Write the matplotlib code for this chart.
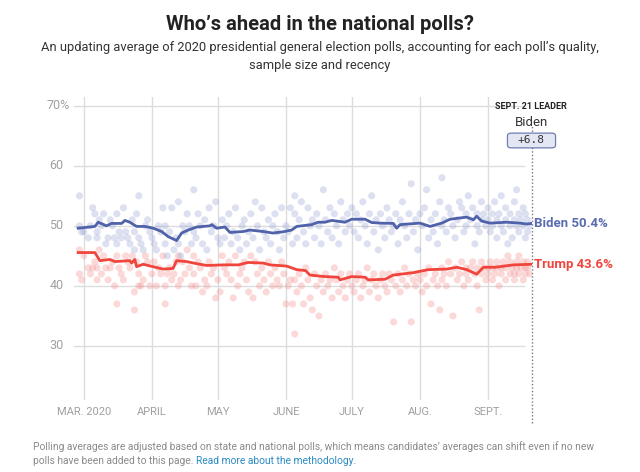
import matplotlib
matplotlib.use("Agg")
import matplotlib.pyplot as plt
from matplotlib.patches import FancyBboxPatch
import numpy as np

# ---------------- data (day index: 0 = March 1, 2020) ----------------
poll_days = [-2, -2, -1, 0, 2, 3, 4, 5, 6, 6, 7, 8, 9, 10, 11, 12, 13, 14, 15, 15, 16, 17, 18, 19, 20, 21, 22, 23, 23, 24, 25, 25, 26, 27, 28, 29, 30,
             31, 32, 33, 34, 35, 36, 37, 37, 38, 39, 40, 41, 42, 43, 43, 44, 45, 46, 47, 48, 49, 50, 50, 51, 52, 53, 54, 55, 56, 57, 58, 59, 60,
             61, 62, 63, 64, 65, 66, 67, 68, 69, 70, 71, 72, 73, 74, 75, 76, 77, 78, 79, 80, 81, 82, 83, 84, 85, 86, 87, 88, 89, 90, 91,
             92, 93, 94, 95, 96, 96, 97, 98, 99, 100, 101, 102, 103, 104, 105, 106, 107, 108, 109, 110, 111, 112, 113, 114, 115, 116, 117, 118, 119, 120, 121,
             122, 123, 124, 125, 126, 127, 128, 129, 130, 131, 132, 133, 134, 135, 136, 137, 138, 139, 140, 141, 142, 143, 144, 145, 146, 147, 148, 149, 150, 151, 152,
             153, 154, 155, 156, 157, 158, 159, 160, 161, 162, 163, 163, 164, 165, 166, 167, 168, 169, 170, 171, 172, 173, 174, 174, 175, 176, 177, 178, 179, 179, 180, 181, 181, 182, 183,
             184, 184, 185, 186, 186, 187, 188, 188, 189, 190, 190, 191, 192, 192, 193, 194, 194, 195, 196, 196, 197, 197, 198, 198, 199, 200, 200, 201, 201, 202, 202, 203]
poll_biden = [50, 55, 49, 49, 48, 50, 53, 52, 48, 49, 51, 50, 52, 47, 48, 51, 50, 48, 47, 52, 49, 48, 53, 49, 48, 47, 51, 49, 46, 52, 55, 48, 47, 46, 50, 51, 49,
              48, 47, 46, 50, 49, 53, 47, 50, 45, 49, 53, 46, 48, 54, 47, 45, 50, 49, 52, 50, 47, 56, 49, 48, 52, 50, 47, 51, 46, 53, 49, 50, 54,
              48, 47, 51, 48, 50, 52, 47, 49, 53, 48, 46, 50, 51, 47, 49, 52, 48, 54, 50, 46, 53, 49, 48, 51, 47, 50, 52, 49, 46, 53, 48,
              50, 49, 53, 47, 52, 55, 48, 51, 54, 49, 47, 53, 50, 51, 48, 52, 50, 47, 56, 51, 49, 53, 48, 52, 50, 47, 54, 51, 49, 52, 50,
              53, 49, 52, 48, 51, 54, 50, 47, 52, 55, 49, 51, 46, 52, 50, 48, 53, 51, 49, 50, 52, 47, 51, 54, 50, 48, 52, 57, 49, 51, 46,
              52, 50, 53, 56, 48, 51, 49, 52, 47, 54, 58, 50, 51, 49, 53, 52, 50, 48, 51, 54, 53, 49, 52, 50, 55, 51, 53, 47, 52, 50, 49, 54, 51, 52, 50,
              51, 53, 49, 52, 50, 54, 51, 48, 52, 50, 55, 49, 51, 53, 47, 52, 50, 48, 54, 51, 56, 50, 52, 49, 51, 53, 50, 48, 52, 51, 49, 50]
poll_trump = [46, 42, 41, 45, 43, 42, 43, 44, 41, 43, 46, 42, 45, 43, 41, 43, 44, 40, 37, 45, 43, 42, 41, 45, 44, 43, 45, 36, 39, 44, 42, 40, 40, 41, 45, 44, 40,
              42, 44, 40, 43, 42, 45, 37, 40, 42, 43, 41, 42, 44, 45, 40, 41, 44, 42, 46, 43, 40, 45, 42, 40, 44, 43, 39, 41, 40, 44, 42, 43, 38,
              41, 39, 45, 43, 42, 44, 41, 38, 45, 40, 42, 43, 44, 41, 39, 45, 38, 44, 42, 40, 43, 41, 39, 44, 42, 40, 43, 41, 40, 44, 42,
              37, 40, 41, 37, 32, 41, 39, 42, 40, 37, 43, 41, 38, 36, 42, 40, 35, 41, 39, 42, 40, 41, 38, 43, 41, 39, 42, 40, 38, 41, 42,
              40, 39, 41, 42, 38, 40, 41, 43, 39, 41, 42, 40, 38, 41, 42, 40, 39, 42, 41, 34, 40, 42, 39, 41, 43, 40, 42, 34, 41, 40, 42,
              41, 39, 42, 40, 43, 37, 41, 42, 40, 36, 43, 41, 42, 40, 44, 42, 35, 43, 41, 42, 44, 40, 43, 42, 41, 43, 44, 42, 40, 43, 36, 42, 44, 43, 41,
              43, 42, 44, 43, 41, 42, 44, 43, 40, 43, 42, 44, 41, 43, 45, 42, 44, 43, 41, 42, 44, 43, 42, 45, 43, 41, 44, 42, 43, 44, 43, 42]

biden_avg_days = [-2.6, 5.0, 6.5, 10.3, 12.6, 17.2, 18.7, 20.9, 24.0, 27.8, 31.6, 35.4, 38.4, 42.2, 44.5, 47.5, 51.3, 57.4, 58.2, 60.4,
                  64.2, 66.5, 72.5, 75.6, 81.6, 86.0, 90.6, 94.6, 96.9, 103.7, 106.6, 109.7, 112.8, 118.9, 121.9, 128.0, 131.0, 134.8,
                  140.8, 142.4, 143.9, 153.0, 157.6, 162.9, 166.7, 174.3, 177.3, 178.8, 181.1, 184.9, 192.5, 198.5, 201.6, 204.0]
biden_avg = [49.6, 49.9, 50.6, 50.0, 50.4, 50.4, 50.9, 50.6, 49.9, 49.9, 49.6, 49.05, 48.2, 47.55, 48.8, 49.3, 49.8, 50.0, 50.2, 49.6,
             49.8, 48.9, 49.05, 49.3, 49.05, 48.8, 49.0, 49.3, 49.9, 50.2, 50.6, 50.6, 50.9, 50.6, 51.1, 51.1, 50.55, 50.45,
             50.4, 49.6, 50.2, 50.45, 49.9, 50.45, 51.1, 51.45, 51.0, 51.6, 50.8, 50.45, 50.6, 50.45, 50.3, 50.4]

trump_avg_days = [-2.6, 5.0, 7.3, 11.8, 14.1, 20.9, 21.7, 23.2, 24.0, 27.0, 33.1, 36.1, 40.6, 42.2, 46.7, 51.3, 55.9, 63.4, 70.3, 74.8,
                  81.6, 84.7, 92.3, 96.9, 100.9, 102.9, 109.7, 115.8, 116.6, 121.9, 128.0, 129.5, 137.1, 140.8, 149.9, 156.7,
                  165.2, 169.8, 174.3, 178.8, 181.9, 187.2, 195.5, 204.0]
trump_avg = [45.55, 45.55, 44.2, 44.4, 44.05, 44.2, 43.8, 44.4, 43.2, 43.6, 43.05, 42.8, 42.9, 44.2, 44.05, 43.7, 43.4, 43.5, 43.5, 43.9,
             43.8, 43.5, 43.3, 42.7, 42.55, 41.8, 41.55, 41.45, 41.0, 41.55, 41.45, 41.0, 41.1, 41.8, 42.2, 42.7,
             42.8, 43.1, 42.7, 41.95, 43.1, 43.1, 43.5, 43.6]

month_days = [0, 31, 61, 92, 122, 153, 184]
month_labels = ["MAR. 2020", "APRIL", "MAY", "JUNE", "JULY", "AUG.", "SEPT."]
y_ticks = [30, 40, 50, 60, 70]
y_labels = ["30", "40", "50", "60", "70%"]
leader_day = 204
biden_final = 50.4
trump_final = 43.6
margin = "+6.8"

# ---------------- styling ----------------
FONT = "Roboto"
BLUE = "#4f62aa"
BLUE_DOT = "#95a2d2"
RED = "#f0453c"
RED_DOT = "#f48d8d"
GRID = "#dcdcdc"
TICK = "#a0a0a0"

fig = plt.figure(figsize=(6.4, 4.72), dpi=100)
W, H = 640, 472
ax = fig.add_axes([74 / W, 1 - 400 / H, (532 - 74) / W, (400 - 96.7) / H])
ax.set_xlim(-4.5, 204)
ax.set_ylim(21.0, 71.5)
for s in ax.spines.values():
    s.set_visible(False)
ax.set_xticks([])
ax.set_yticks([])

# grid
for yv in y_ticks:
    ax.plot([-4.5, 200.5], [yv, yv], color=GRID, lw=1.0, zorder=0)
for d in month_days:
    ax.axvline(d, color=GRID, lw=1.0, zorder=0)

# dots
ax.scatter(poll_days, poll_trump, s=26, color=RED_DOT, alpha=0.33, edgecolors="none", zorder=1)
ax.scatter(poll_days, poll_biden, s=26, color=BLUE_DOT, alpha=0.33, edgecolors="none", zorder=1)

# averages
ax.plot(trump_avg_days, trump_avg, color=RED, lw=2.0, zorder=3, solid_joinstyle="round")
ax.plot(biden_avg_days, biden_avg, color=BLUE, lw=2.0, zorder=3, solid_joinstyle="round")

# leader dotted line
ax.plot([leader_day, leader_day], [17.2, 66.6], color="#777777", lw=1.0, ls=(0, (1, 1.5)),
        clip_on=False, zorder=2)

# tick labels
for yv, lab in zip(y_ticks, y_labels):
    xpos = -6.6 if lab.endswith("%") else -9.2
    ax.text(xpos, yv, lab, ha="right", va="center", fontsize=9, color=TICK, family=FONT)
for d, lab in zip(month_days, month_labels):
    ax.text(d, 19.0, lab, ha="center", va="center", fontsize=8, color=TICK, family=FONT, clip_on=False)

# end labels
ax.text(leader_day + 0.8, biden_final, f"Biden {biden_final}%", ha="left", va="center", fontsize=9.5,
        fontweight="bold", color="#5a6cb0", family=FONT, clip_on=False)
ax.text(leader_day + 0.8, trump_final, f"Trump {trump_final}%", ha="left", va="center", fontsize=9.5,
        fontweight="bold", color=RED, family=FONT, clip_on=False)

# leader annotation (figure pixel coords)
fig.text(531 / W, 1 - 106 / H, "SEPT. 21 LEADER", ha="center", va="center", fontsize=6.5,
         fontweight="bold", color="#222222", family=FONT)
fig.text(531 / W, 1 - 122 / H, "Biden", ha="center", va="center", fontsize=9.5, color="#333333", family=FONT)
box = FancyBboxPatch(((507 + 3) / W, 1 - (148 - 2) / H), (49 - 6) / W, (15 - 4) / H,
                     boxstyle="round,pad=0.004,rounding_size=0.006", transform=fig.transFigure,
                     facecolor="#e3e6f3", edgecolor="#6f7db3", lw=0.9, zorder=5)
fig.patches.append(box)
fig.text(531 / W, 1 - 140.5 / H, margin, ha="center", va="center", fontsize=8, color="#333333",
         family="DejaVu Sans Mono", zorder=6)

# title & subtitle
fig.text(0.5, 1 - 24 / H, "Who\u2019s ahead in the national polls?", ha="center", va="center",
         fontsize=14.5, fontweight="bold", color="#222222", family=FONT)
fig.text(0.5, 1 - 48 / H,
         "An updating average of 2020 presidential general election polls, accounting for each poll\u2019s quality,",
         ha="center", va="center", fontsize=9.3, color="#333333", family=FONT)
fig.text(0.5, 1 - 66 / H, "sample size and recency", ha="center", va="center", fontsize=9.3,
         color="#333333", family=FONT)

# footer
fig.text(33 / W, 1 - 447 / H,
         "Polling averages are adjusted based on state and national polls, which means candidates\u2019 averages can shift even if no new",
         ha="left", va="center", fontsize=7.4, color="#8a8a8a", family=FONT)
t1 = fig.text(33 / W, 1 - 461 / H, "polls have been added to this page. ", ha="left", va="center",
              fontsize=7.4, color="#8a8a8a", family=FONT)
fig.canvas.draw()
bb = t1.get_window_extent()
fig.text(bb.x1 / W, 1 - 461 / H, "Read more about the methodology.", ha="left", va="center",
         fontsize=7.4, color="#2a8ac4", family=FONT)

fig.savefig("out.png", dpi=100, facecolor="white")
